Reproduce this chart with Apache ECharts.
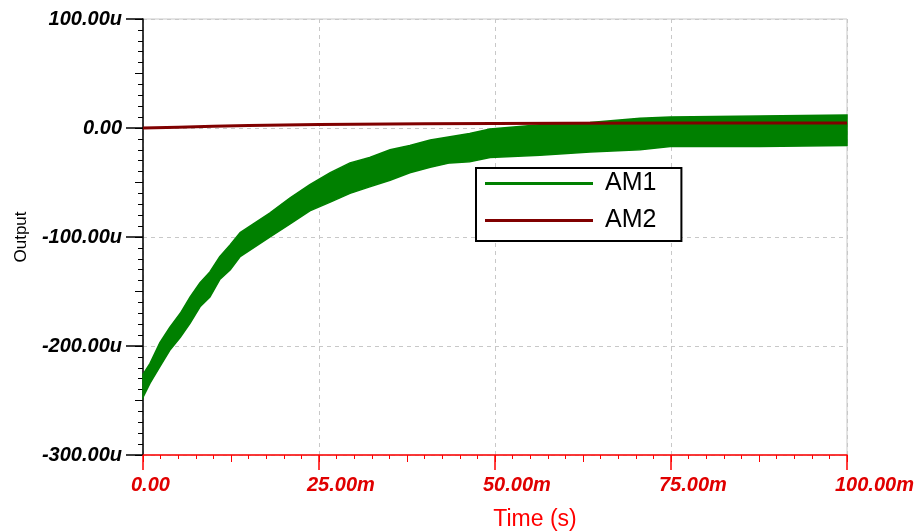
<!DOCTYPE html>
<html>
<head>
<meta charset="utf-8">
<script src="https://cdn.jsdelivr.net/npm/echarts@6/dist/echarts.min.js"></script>
<style>
html,body{margin:0;padding:0;background:#fff;}
#chart{width:920px;height:531px;}
</style>
</head>
<body>
<div id="chart"></div>
<script>
// Time in ms
const timeMs = [0,1,2.4,3.8,5.3,6.7,8.1,9.5,10.9,12.4,13.8,18,20.9,23.7,26.6,29.4,32.2,35.1,37.9,40.8,43.6,46.4,49.3,56.4,63.5,70.6,74.9,87.6,100];
// AM1 oscillation envelope (u)
const am1Upper = [-226,-216,-197,-183,-170,-155,-142,-132,-118,-107,-96,-78,-64,-52,-41,-32,-27,-20,-16,-11,-8,-5,-1,3,5,9,10,11,12];
const am1Lower = [-247,-234,-219,-204,-192,-179,-164,-155,-139,-130,-118,-100,-88,-76,-68,-60,-54,-48,-41,-36,-32,-31,-27,-25,-22,-20,-17,-17,-16];
// AM2 (u)
const am2Time = [0,5,10,15,20,25,30,40,50,60,75,100];
const am2Values = [0,0.8,1.5,2.2,2.7,3.1,3.4,3.8,4.1,4.3,4.5,4.6];
// axis ticks
const xTicks = [0,25,50,75,100];
const yTicks = [-300,-200,-100,0,100];

const GREEN = '#008000';
const DARKRED = '#800000';
const RED = '#ff0000';
const FONT = '"Liberation Sans", Arial, sans-serif';

const am1Data = timeMs.map((t,i)=>[t, am1Upper[i], am1Lower[i]]);
const am2Data = am2Time.map((t,i)=>[t, am2Values[i]]);

function renderBand(params, api){
  if (params.dataIndex !== 0) return null;
  const upper = [], lower = [];
  for (let i=0;i<am1Data.length;i++){
    upper.push(api.coord([am1Data[i][0], am1Data[i][1]]));
    lower.push(api.coord([am1Data[i][0], am1Data[i][2]]));
  }
  const pts = upper.concat(lower.reverse());
  return {
    type:'polygon',
    shape:{points:pts},
    style:{fill:GREEN, stroke:GREEN, lineWidth:1.5}
  };
}

const chart = echarts.init(document.getElementById('chart'), null, {renderer:'canvas'});
chart.setOption({
  animation:false,
  backgroundColor:'#fff',
  grid:{left:143,right:73,top:19,bottom:76,containLabel:false,outerBoundsMode:'none',
        show:true,borderColor:'#c8c8c8',borderWidth:1,backgroundColor:'transparent'},
  legend:{
    data:['AM1','AM2'],
    orient:'vertical',
    left:476, top:168,
    icon:'rect', itemWidth:108, itemHeight:3,
    itemGap:12,
    padding:[3,25,8,9],
    backgroundColor:'#fff',
    borderColor:'#000', borderWidth:2, borderRadius:0,
    textStyle:{fontFamily:FONT,fontSize:25,color:'#000',padding:[0,0,0,7]},
    selectedMode:false
  },
  xAxis:[{
    type:'value', min:xTicks[0], max:xTicks[xTicks.length-1], interval:25,
    name:'Time (s)', nameLocation:'middle', nameGap:53,
    nameTextStyle:{color:RED,fontFamily:FONT,fontSize:23,padding:[0,0,0,80]},
    axisLine:{show:true,onZero:false,lineStyle:{color:RED,width:1.5}},
    axisTick:{show:true,length:15,lineStyle:{color:RED,width:1.5}},
    minorTick:{show:true,splitNumber:10,length:4,lineStyle:{color:RED,width:1}},
    axisLabel:{color:'#e00000',fontFamily:FONT,fontSize:20,fontWeight:'bold',fontStyle:'italic',
      margin:20,align:'left',padding:[0,0,0,-12],
      formatter:v=> v===0 ? '0.00' : v.toFixed(2)+'m'},
    splitLine:{show:true,lineStyle:{color:'#c8c8c8',type:[4,4],width:1}}
  },{
    type:'value', min:0, max:100, interval:12.5, position:'bottom',
    axisLine:{show:false,onZero:false}, axisLabel:{show:false}, splitLine:{show:false},
    axisTick:{show:true,length:7,lineStyle:{color:RED,width:1}}
  }],
  yAxis:[{
    type:'value', min:yTicks[0], max:yTicks[yTicks.length-1], interval:100,
    name:'Output', nameLocation:'middle', nameGap:113,
    nameTextStyle:{color:'#000',fontFamily:FONT,fontSize:17},
    axisLine:{show:true,onZero:false,lineStyle:{color:'#000',width:1.5}},
    axisTick:{show:true,length:17,lineStyle:{color:'#000',width:1.5}},
    minorTick:{show:true,splitNumber:10,length:5,lineStyle:{color:'#000',width:1}},
    axisLabel:{color:'#000',fontFamily:FONT,fontSize:20,fontWeight:'bold',fontStyle:'italic',margin:21,
      formatter:v=> v===0 ? '0.00' : v.toFixed(2)+'u'},
    splitLine:{show:true,lineStyle:{color:'#c8c8c8',type:[4,4],width:1}}
  },{
    type:'value', min:-300, max:100, interval:50, position:'left',
    axisLine:{show:false,onZero:false}, axisLabel:{show:false}, splitLine:{show:false},
    axisTick:{show:true,length:8,lineStyle:{color:'#000',width:1}}
  }],
  series:[
    {name:'AM1',type:'custom',data:am1Data,renderItem:renderBand,color:GREEN,silent:true,z:2,
     encode:{x:0,y:[1,2]}},
    {name:'AM2',type:'line',data:am2Data,showSymbol:false,symbol:'none',silent:true,
     color:DARKRED,lineStyle:{color:DARKRED,width:3},z:5}
  ]
});
</script>
</body>
</html>
